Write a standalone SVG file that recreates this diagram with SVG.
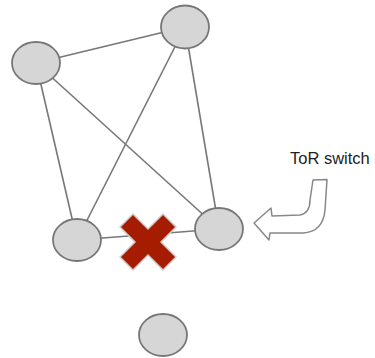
<svg xmlns="http://www.w3.org/2000/svg" width="375" height="358" viewBox="0 0 375 358">
<style>
.edge{stroke:#777;stroke-width:1.6;fill:none}
.node{fill:#d6d6d6;stroke:#777;stroke-width:1.8}
.lbl{font-family:"Liberation Sans",Arial,sans-serif;font-size:16.5px;fill:#222}
</style>
<rect width="375" height="358" fill="#fff"/>
<g id="connectors">
<line class="edge" x1="36" y1="63" x2="185" y2="27"/>
<line class="edge" x1="36" y1="63" x2="77" y2="240"/>
<line class="edge" x1="36" y1="63" x2="219" y2="229"/>
<line class="edge" x1="185" y1="27" x2="77" y2="240"/>
<line class="edge" x1="185" y1="27" x2="219" y2="229"/>
<line class="edge" x1="77" y1="240" x2="219" y2="229"/>
</g>
<g id="n-top"><ellipse class="node" cx="185" cy="27" rx="24" ry="21.5"/></g>
<g id="n-left"><ellipse class="node" cx="36" cy="63" rx="24" ry="21"/></g>
<g id="n-bl"><ellipse class="node" cx="77" cy="240" rx="24" ry="21"/></g>
<g id="n-br"><ellipse class="node" cx="219" cy="229" rx="24" ry="21"/></g>
<g id="n-bottom"><ellipse class="node" cx="163" cy="335" rx="24" ry="21"/></g>
<g id="cross">
<path transform="translate(148,242)" d="M-28,-15 L-15,-28 L0,-13 L15,-28 L28,-15 L13,0 L28,15 L15,28 L0,13 L-15,28 L-28,15 L-13,0 Z" fill="#a61c00" stroke="#cccccc" stroke-width="1.5"/>
</g>
<g id="tor-arrow">
<path d="M313,180 L327,179.5 L325,210 Q323,232 303,233 L270,233 L269,240 L254,223 L271,208 L272,216 L300,215 Q310,213 310,200 Z" fill="#fff" stroke="#888" stroke-width="1.5" stroke-linejoin="round"/>
</g>
<g id="tor-label"><text class="lbl" x="290" y="164">ToR switch</text></g>
</svg>
